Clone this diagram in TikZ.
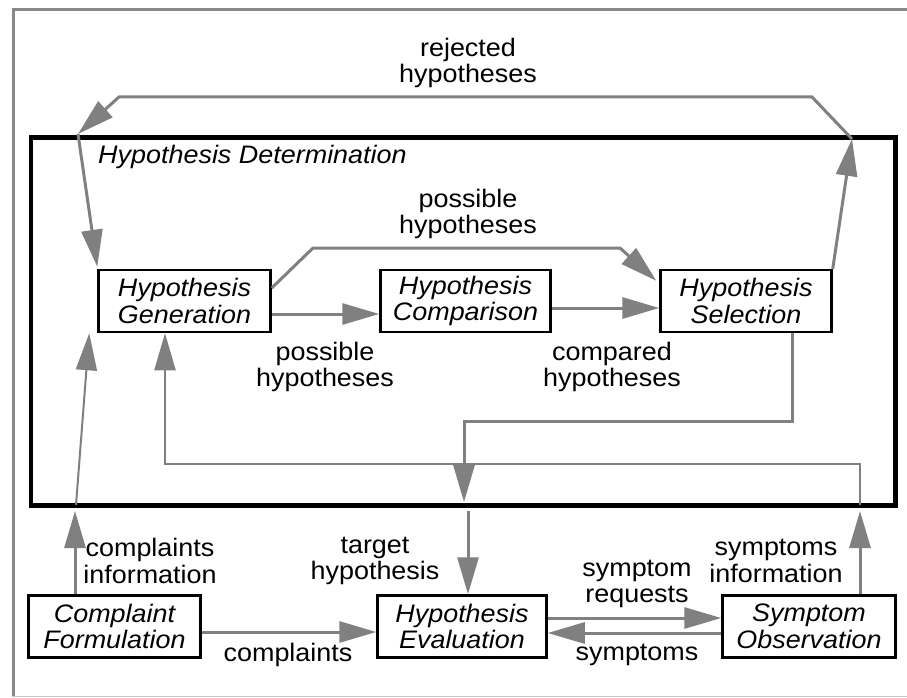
\documentclass[tikz,border=0pt]{standalone}
\usepackage{fontspec}
\setmainfont[FakeStretch=1.065]{Liberation Sans}
\usetikzlibrary{arrows.meta,calc}
\definecolor{flowgray}{RGB}{128,128,128}
\definecolor{framegray}{RGB}{136,136,136}
\definecolor{edgegray}{RGB}{200,200,200}

\begin{document}
\begin{tikzpicture}[x=1pt,y=-1pt,
  txt/.style={font=\fontsize{25.3}{26.7}\selectfont, inner sep=0pt, align=center},
  task/.style={txt, draw=black, line width=2.5pt, fill=white,
    minimum height=62pt, font=\fontsize{25.3}{26.7}\selectfont\itshape},
  flow/.style={draw=flowgray, line width=3pt, -{Triangle[length=37pt,width=21pt]}},
  thinflow/.style={flow, line width=2pt}
]
\useasboundingbox (0,0) rectangle (907,698);

% outer frame
\draw[framegray, line width=3pt] (13.5,696) -- (13.5,10) -- (912,10);
\draw[edgegray, line width=1.5pt] (12,696.5) -- (907,696.5);

% hypothesis determination frame
\node[draw=black, line width=4.5pt, minimum width=864.5pt, minimum height=368pt,
      inner sep=0pt] (hdet) at (463.25,321.5) {};
\node[txt, anchor=base west, font=\fontsize{25.3}{26.7}\selectfont\itshape]
  (hdlabel) at (98,163) {Hypothesis Determination};

% tasks
\node[task, minimum width=172pt] (hg) at (184.5,301) {Hypothesis\\Generation};
\node[task, minimum width=170pt] (hc) at (465.5,301) {Hypothesis\\Comparison};
\node[task, minimum width=171pt] (hs) at (746,301) {Hypothesis\\Selection};
\node[task, minimum width=172pt] (cf) at (114.5,626.5) {Complaint\\Formulation};
\node[task, minimum width=169pt] (he) at (462,626.5) {Hypothesis\\Evaluation};
\node[task, minimum width=173pt] (so) at (809,626.5) {Symptom\\Observation};

% points where flows cross the frame
\coordinate (topR) at (852,139);
\coordinate (topL) at (78,134);
\coordinate (rjR) at (812,97);
\coordinate (rjL) at (119,97);
\coordinate (tIn) at (464,502);
\coordinate (tOut) at (468,511);
\coordinate (cOut) at (75,511);
\coordinate (cIn) at (76,505);
\coordinate (sOut) at (860,511);
\coordinate (sIn) at (860,505);

% rejected hypotheses loop
\draw[flow] (hs.north east) -- (topR);
\draw[flow] (topR) -- (rjR) -- (rjL) -- (topL);
\draw[flow] (topL) -- ($(hg.north west)+(0,-2)$);

% possible hypotheses
\draw[flow] ($(hg.east)+(0,-13)$) -- (313,248) -- (620,248) -- ($(hs.north west)+(-3,12)$);
\draw[flow] ($(hg.east)+(0,13)$) -- ($(hc.west)+(0,13)$);
\draw[flow] ($(hc.east)+(0,7)$) -- ($(hs.west)+(0,7)$);

% target hypothesis
\draw[flow] ($(hs.south)+(46,0)$) |- ($(tIn)+(0,-81)$) -- (tIn);
\draw[flow] (tOut) -- (he.north -| tOut);

% complaints information
\draw[flow] (cf.north -| cOut) -- (cOut);
\draw[thinflow] (cIn) -- ($(hg.south west)+(-8,0)$);

% symptoms information
\draw[flow] (so.north -| sOut) -- (sOut);
\draw[flow, line width=2.5pt] (sIn) -- (860,464) -| ($(hg.south)+(-19.5,0)$);

% bottom exchanges
\draw[flow] ($(cf.east)+(0,5.5)$) -- ($(he.west)+(0,5.5)$);
\draw[flow] ($(he.east)+(0,-8.5)$) -- ($(so.west)+(0,-8.5)$);
\draw[flow] ($(so.west)+(0,6.5)$) -- ($(he.east)+(0,6.5)$);

% flow labels
\node[txt] (lrej) at (468,63) {rejected\\hypotheses};
\node[txt] (lpos1) at (468,214) {possible\\hypotheses};
\node[txt] (lpos2) at (325,367) {possible\\hypotheses};
\node[txt] (lcmp) at (612,367) {compared\\hypotheses};
\node[txt] (lci) at (150,561) {complaints\\information};
\node[txt] (ltgt) at (375,561) {target\\hypothesis};
\node[txt] (lsr) at (637,584) {symptom\\requests};
\node[txt] (lsi) at (776,561) {symptoms\\information};
\node[txt] (lcomp) at (288,655) {complaints};
\node[txt] (lsym) at (637,655) {symptoms};
\end{tikzpicture}
\end{document}
